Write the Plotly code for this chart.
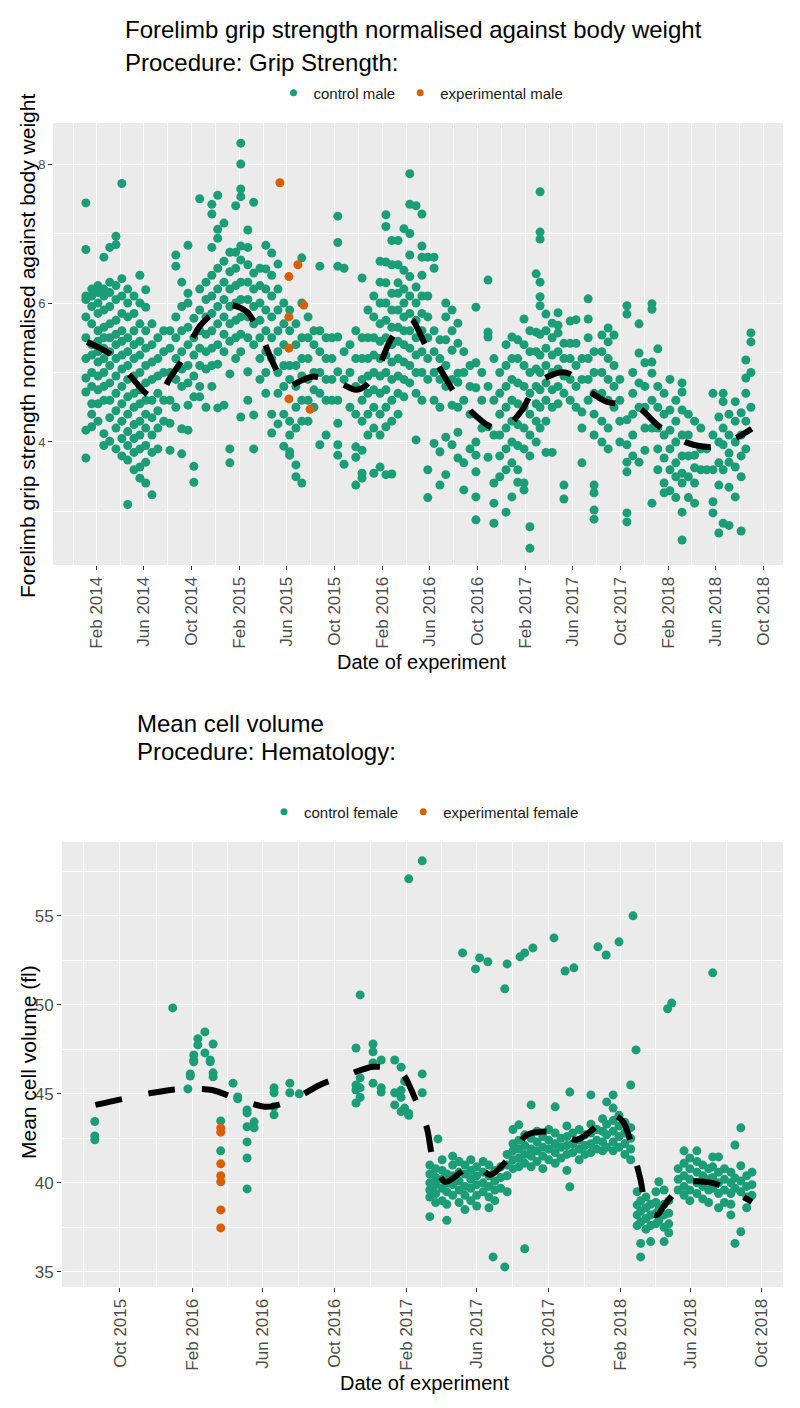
import plotly.graph_objects as go
from datetime import datetime

# ---------------- Top panel: forelimb grip strength ----------------
grip_ctrl_dates = [
    "2014-01-04", "2014-01-19", "2014-02-04", "2014-02-19", "2014-03-06", "2014-03-22", "2014-04-06", "2014-04-21",
    "2014-05-07", "2014-05-22", "2014-06-06", "2014-06-22", "2014-07-07", "2014-07-22", "2014-08-07", "2014-08-22",
    "2014-09-06", "2014-09-22", "2014-10-07", "2014-10-22", "2014-11-07", "2014-11-22", "2014-12-07", "2014-12-23",
    "2015-01-07", "2015-01-22", "2015-02-04", "2015-02-22", "2015-03-09", "2015-03-25", "2015-04-09", "2015-04-24",
    "2015-05-10", "2015-05-25", "2015-06-09", "2015-06-25", "2015-07-10", "2015-07-26", "2015-08-10", "2015-08-25",
    "2015-09-10", "2015-09-25", "2015-10-10", "2015-10-26", "2015-11-10", "2015-11-25", "2015-12-11", "2015-12-26",
    "2016-01-10", "2016-01-26", "2016-02-10", "2016-02-25", "2016-03-12", "2016-03-27", "2016-04-11", "2016-04-27",
    "2016-05-12", "2016-05-27", "2016-06-12", "2016-06-27", "2016-07-12", "2016-07-28", "2016-08-12", "2016-08-27",
    "2016-09-12", "2016-09-27", "2016-10-12", "2016-10-28", "2016-11-12", "2016-11-27", "2016-12-13", "2016-12-28",
    "2017-01-12", "2017-01-28", "2017-02-12", "2017-02-28", "2017-03-10", "2017-03-25", "2017-04-10", "2017-04-25",
    "2017-05-10", "2017-05-26", "2017-06-10", "2017-06-25", "2017-07-11", "2017-07-26", "2017-08-15", "2017-08-31",
    "2017-09-15", "2017-09-30", "2017-10-18", "2017-11-02", "2017-11-18", "2017-12-03", "2017-12-21", "2018-01-05",
    "2018-01-21", "2018-02-05", "2018-02-20", "2018-03-08", "2018-03-24", "2018-04-09", "2018-04-25", "2018-05-10",
    "2018-05-26", "2018-06-10", "2018-06-21", "2018-07-06", "2018-07-22", "2018-08-06", "2018-08-18", "2018-08-31",
]
grip_ctrl_values = [
    [7.44, 6.77, 6.1, 6.05, 5.8, 5.5, 5.2, 4.92, 4.72, 4.17, 3.77],
    [6.2, 6.1, 5.95, 5.7, 5.4, 5.25, 5.0, 4.8, 4.55, 4.4, 4.22],
    [6.25, 6.15, 6.0, 5.85, 5.6, 5.45, 5.3, 5.15, 4.95, 4.75, 4.55, 4.3],
    [6.66, 6.2, 6.1, 5.9, 5.65, 5.5, 5.35, 5.2, 5.0, 4.8, 4.6, 4.12, 3.95],
    [6.8, 6.3, 6.15, 5.95, 5.7, 5.5, 5.3, 5.1, 4.85, 4.6, 4.35, 4.01],
    [6.96, 6.84, 6.25, 6.05, 5.75, 5.55, 5.4, 5.2, 4.95, 4.7, 4.45, 4.2, 3.9],
    [7.72, 6.35, 6.1, 5.85, 5.6, 5.45, 5.25, 5.05, 4.8, 4.55, 4.3, 4.05, 3.8],
    [6.2, 6.0, 5.8, 5.5, 5.3, 5.1, 4.9, 4.65, 4.4, 4.15, 3.95, 3.74, 3.1],
    [6.1, 5.85, 5.6, 5.4, 5.2, 4.95, 4.7, 4.5, 4.25, 4.05, 3.85, 3.6],
    [6.4, 6.0, 5.7, 5.45, 5.25, 5.0, 4.75, 4.55, 4.3, 4.1, 3.9, 3.64, 3.48],
    [6.19, 5.94, 5.6, 5.35, 5.1, 4.85, 4.6, 4.4, 4.2, 3.95, 3.71, 3.41],
    [5.7, 5.4, 5.15, 4.9, 4.6, 4.35, 4.1, 3.85, 3.24],
    [5.5, 5.2, 4.95, 4.7, 4.45, 4.2, 3.9],
    [5.6, 5.3, 5.0, 4.6, 4.3],
    [5.6, 5.35, 5.0, 4.6, 4.27, 3.88],
    [6.69, 6.53, 5.8, 5.5, 5.2, 4.9, 4.5],
    [6.3, 5.95, 5.6, 5.3, 5.05, 4.8, 4.19, 3.83],
    [6.83, 6.14, 6.0, 5.65, 5.4, 5.1, 4.85, 4.53, 4.17],
    [5.78, 5.5, 5.25, 4.95, 4.65, 3.65, 3.42],
    [7.5, 6.2, 5.9, 5.6, 5.35, 5.1, 4.8, 4.65],
    [6.3, 6.05, 5.8, 5.55, 5.3, 5.05, 4.5],
    [7.42, 7.28, 6.8, 6.4, 6.1, 5.85, 5.6, 5.35, 5.1, 4.8],
    [7.55, 7.06, 6.93, 6.5, 6.2, 5.95, 5.7, 5.4, 5.12, 4.49],
    [7.15, 6.6, 6.3, 6.05, 5.8, 5.55, 5.3, 4.53],
    [6.73, 6.45, 6.2, 5.95, 5.7, 5.45, 4.98, 3.9, 3.7],
    [7.4, 6.73, 6.5, 6.25, 6.0, 5.75, 5.5, 5.2],
    [8.3, 8.0, 7.64, 7.53, 6.82, 6.62, 6.3, 6.05, 5.8, 5.55, 5.3, 4.36],
    [7.05, 6.8, 6.55, 6.3, 6.05, 5.8, 5.5, 5.01, 4.6],
    [7.45, 6.43, 6.2, 5.95, 5.7, 5.4, 4.39, 3.9],
    [6.5, 6.25, 6.0, 5.75, 5.5, 5.2, 4.9],
    [6.83, 6.49, 6.2, 5.9, 5.6, 5.3, 5.0, 4.7],
    [6.72, 6.4, 6.1, 5.8, 5.5, 5.2, 4.4, 4.13],
    [6.56, 6.2, 5.9, 5.6, 5.3, 5.0, 4.7, 4.26],
    [6.0, 5.7, 5.4, 5.1, 4.8, 4.4, 3.94],
    [5.9, 5.6, 5.1, 4.9, 4.3, 4.1, 3.86, 3.81],
    [5.7, 5.4, 5.1, 4.8, 4.5, 4.2, 3.67, 3.5],
    [6.65, 6.0, 5.5, 5.2, 4.95, 4.6, 4.3, 3.41],
    [5.8, 5.5, 5.2, 4.9, 4.6, 4.3],
    [5.6, 5.4, 5.0, 4.75, 4.5],
    [6.53, 5.6, 5.3, 5.0, 4.7, 3.96],
    [5.5, 5.2, 4.9, 4.6, 4.1],
    [5.5, 5.2, 4.9, 4.6],
    [7.25, 6.87, 6.53, 5.51, 5.01, 4.6, 4.27, 3.96, 3.81],
    [6.5, 5.3, 4.9, 3.68],
    [5.4, 5.0, 4.5],
    [5.6, 5.2, 4.8, 4.4, 3.93, 3.78, 3.38],
    [6.36, 5.5, 5.2, 4.9, 4.6, 4.3, 3.88, 3.55, 3.48],
    [5.9, 5.5, 5.2, 4.95, 4.7, 4.4, 4.1],
    [6.1, 5.8, 5.5, 5.25, 5.0, 4.75, 4.5, 4.2, 3.55],
    [6.6, 6.3, 6.0, 5.7, 5.45, 5.2, 4.95, 4.7, 4.4, 4.1, 3.64],
    [7.27, 7.1, 6.59, 6.29, 6.0, 5.75, 5.5, 5.25, 5.0, 4.75, 4.5, 4.22, 3.53],
    [6.9, 6.55, 6.14, 5.9, 5.65, 5.4, 5.15, 4.9, 4.6, 4.3, 3.54],
    [6.9, 6.55, 6.29, 6.14, 5.9, 5.65, 5.45, 5.2, 4.95, 4.7, 4.4],
    [7.07, 6.47, 6.2, 6.0, 5.8, 5.6, 5.4, 5.15, 4.9, 4.65],
    [7.86, 7.42, 7.0, 6.69, 6.38, 6.1, 5.85, 5.6, 5.35, 5.1, 4.85],
    [7.4, 6.23, 6.0, 5.75, 5.5, 5.25, 5.0, 4.7, 4.03],
    [7.28, 6.82, 6.66, 6.4, 6.1, 5.85, 5.6, 5.3, 5.0, 4.6],
    [6.66, 6.1, 5.8, 5.5, 5.2, 4.9, 3.6, 3.2],
    [6.66, 6.5, 5.6, 5.3, 5.0, 4.6, 3.98],
    [5.47, 5.2, 4.9, 4.5, 3.86, 3.38],
    [6.0, 5.8, 5.47, 5.1, 4.8, 4.07, 3.53],
    [5.9, 5.6, 5.32, 4.9, 4.53, 3.96],
    [5.71, 5.42, 4.99, 4.86, 4.5, 4.14, 3.77],
    [5.3, 5.0, 4.6, 3.7, 3.31],
    [5.1, 4.8, 4.4, 3.9],
    [5.94, 5.14, 4.78, 4.0, 3.81, 3.57, 3.21, 2.88],
    [5.0, 4.6, 4.2],
    [6.33, 5.58, 5.51, 4.8, 4.22, 3.78],
    [5.2, 4.6, 4.1, 3.41, 3.12, 2.83],
    [5.0, 4.7, 4.4, 4.1, 3.8, 3.5],
    [5.4, 5.1, 4.8, 4.5, 4.2, 3.9, 3.6, 2.99],
    [5.51, 5.2, 4.9, 4.6, 4.3, 4.0, 3.7, 3.21],
    [5.47, 5.2, 4.85, 4.55, 4.25, 3.95, 3.6, 3.42],
    [5.77, 5.4, 5.1, 4.8, 4.5, 4.2, 3.9, 3.41, 3.31],
    [5.6, 5.3, 5.0, 4.7, 4.4, 4.1, 3.8, 2.78, 2.47],
    [6.42, 5.58, 5.3, 5.05, 4.8, 4.55, 4.3, 4.0],
    [7.6, 7.02, 6.92, 6.3, 6.09, 5.96, 5.55, 5.25, 5.0, 4.75, 4.5, 4.2],
    [5.84, 5.6, 5.35, 5.1, 4.85, 4.6, 4.3, 3.85],
    [5.71, 5.5, 5.25, 5.0, 4.75, 4.5, 3.85],
    [5.86, 5.68, 5.57, 5.3, 5.05, 4.8, 4.55],
    [5.42, 5.2, 4.95, 4.7, 3.38, 3.18],
    [5.74, 5.42, 5.2, 4.9, 4.6],
    [5.76, 5.42, 5.1, 4.8, 4.5],
    [5.2, 4.9, 4.43, 4.2, 3.7],
    [6.06, 5.77, 5.5, 5.2, 4.9, 4.6],
    [5.3, 5.0, 4.7, 4.4, 4.1, 3.38, 3.27, 3.02, 2.89],
    [5.54, 5.3, 5.0, 4.7, 4.3, 4.0],
    [5.64, 5.44, 5.2, 4.9, 4.6, 4.2, 3.9],
    [5.54, 5.1, 4.8, 4.5],
    [4.9, 4.6, 4.3, 4.0],
    [5.96, 5.84, 4.32, 3.96, 3.71, 3.57, 2.98, 2.85],
    [5.0, 4.7, 4.4, 4.1, 3.8],
    [5.7, 5.28, 4.85, 4.5, 3.71],
    [5.14, 4.8, 4.5, 4.2, 3.88],
    [5.99, 5.91, 5.15, 4.99, 4.6, 4.2, 3.12],
    [5.34, 4.8, 4.5, 4.2, 3.9, 3.6],
    [4.7, 4.4, 4.1, 3.77, 3.41, 3.27],
    [4.9, 4.46, 4.17, 3.9, 3.6, 3.3],
    [4.6, 4.3, 4.0, 3.7, 3.5, 3.2],
    [4.85, 4.72, 4.46, 4.1, 3.8, 3.55, 3.41, 2.99, 2.59],
    [4.4, 4.1, 3.8, 3.5, 3.2],
    [4.3, 3.81, 3.63, 3.41, 3.12],
    [4.2, 3.9, 3.6],
    [3.9, 3.6],
    [4.7, 4.1, 3.6, 3.14, 2.98],
    [4.36, 4.0, 3.7, 3.38, 2.69],
    [4.7, 4.58, 4.2, 3.96, 3.6, 2.83],
    [4.4, 4.1, 3.84, 3.71, 3.35, 2.8],
    [4.58, 4.3, 4.0, 3.64, 3.21],
    [4.42, 4.1, 3.8, 3.5, 2.72],
    [5.18, 4.92, 4.7, 4.3, 3.9],
    [5.57, 5.44, 5.0, 4.5],
]
grip_exp_dates = ["2015-05-15", "2015-06-07", "2015-06-07", "2015-06-07", "2015-06-07",
                  "2015-06-30", "2015-07-15", "2015-07-31"]
grip_exp_values = [7.73, 6.38, 5.8, 5.35, 4.62, 6.55, 5.97, 4.47]
grip_trend_dates = [
    "2014-01-07", "2014-03-06", "2014-04-26", "2014-06-11", "2014-07-07", "2014-08-07", "2014-09-14",
    "2014-10-20", "2014-12-13", "2015-01-12", "2015-02-20", "2015-03-30", "2015-04-27", "2015-06-02",
    "2015-06-30", "2015-08-05", "2015-10-10", "2015-11-25", "2015-12-18", "2016-01-20", "2016-02-20",
    "2016-03-20", "2016-04-14", "2016-05-25", "2016-07-02", "2016-08-10", "2016-09-30", "2016-11-02",
    "2016-12-05", "2017-01-23", "2017-03-04", "2017-04-29", "2017-05-25", "2017-07-02", "2017-08-27",
    "2017-11-15", "2018-01-05", "2018-03-20", "2018-05-23", "2018-07-28", "2018-09-02",
]
grip_trend_values = [
    5.44, 5.27, 4.96, 4.68, 4.64, 4.92, 5.24,
    5.65, 5.93, 5.97, 5.87, 5.51, 5.14, 4.79,
    4.86, 4.94, 4.86, 4.75, 4.8, 5.05, 5.45,
    5.68, 5.77, 5.35, 5.01, 4.65, 4.36, 4.22,
    4.17, 4.46, 4.85, 5.0, 4.98, 4.78, 4.58,
    4.5, 4.24, 3.99, 3.93, 4.07, 4.19,
]
grip_tick_labels = ["Feb 2014", "Jun 2014", "Oct 2014", "Feb 2015", "Jun 2015", "Oct 2015", "Feb 2016",
                    "Jun 2016", "Oct 2016", "Feb 2017", "Jun 2017", "Oct 2017", "Feb 2018", "Jun 2018",
                    "Oct 2018"]
grip_y_ticks = [4, 6, 8]

# ---------------- Bottom panel: mean cell volume ----------------
mcv_ctrl_dates = [
    "2015-08-19", "2015-12-30", "2016-01-25", "2016-01-29", "2016-02-04", "2016-02-11", "2016-02-23", "2016-03-03",
    "2016-03-08", "2016-03-21", "2016-04-11", "2016-04-19", "2016-05-05", "2016-05-17", "2016-06-20", "2016-07-17",
    "2016-08-02", "2016-11-07", "2016-11-14", "2016-12-06", "2016-12-20", "2017-01-12", "2017-01-23", "2017-01-29",
    "2017-02-05", "2017-02-28", "2017-03-13", "2017-03-23", "2017-03-27", "2017-04-03", "2017-04-11", "2017-04-21",
    "2017-05-02", "2017-05-08", "2017-05-12", "2017-05-22", "2017-05-30", "2017-06-01", "2017-06-06", "2017-06-12",
    "2017-06-20", "2017-06-22", "2017-06-29", "2017-07-02", "2017-07-12", "2017-07-19", "2017-07-23", "2017-08-02",
    "2017-08-12", "2017-08-14", "2017-08-22", "2017-09-02", "2017-09-05", "2017-09-12", "2017-09-22", "2017-10-02",
    "2017-10-11", "2017-10-13", "2017-10-23", "2017-10-30", "2017-11-02", "2017-11-07", "2017-11-12", "2017-11-14",
    "2017-11-23", "2017-12-03", "2017-12-13", "2017-12-23", "2017-12-25", "2018-01-02", "2018-01-08", "2018-01-09",
    "2018-01-20", "2018-01-30", "2018-02-09", "2018-02-19", "2018-02-23", "2018-02-28", "2018-03-02", "2018-03-08",
    "2018-03-17", "2018-03-25", "2018-04-03", "2018-04-08", "2018-04-17", "2018-04-23", "2018-04-25", "2018-04-30",
    "2018-05-11", "2018-05-21", "2018-05-31", "2018-06-12", "2018-06-22", "2018-07-02", "2018-07-09", "2018-07-19",
    "2018-07-29", "2018-08-09", "2018-08-16", "2018-08-26", "2018-09-05", "2018-09-14",
]
mcv_ctrl_values = [
    [43.45, 42.64, 42.42], [49.83], [45.28], [46.12, 46.0], [47.19, 46.9, 46.8], [48.1, 47.75], [48.48, 47.3],
    [46.9, 46.8],
    [47.8, 46.18, 45.96], [43.48, 41.8], [45.6], [44.83, 44.72], [44.1, 43.93, 43.15, 42.3, 41.4, 39.66],
    [43.43, 43.09], [45.34, 45.06, 44.27, 43.82], [45.6, 45.06],
    [45.0], [47.58, 45.5, 45.22, 44.49], [50.56, 45.9, 45.34, 44.8], [47.8, 47.36, 46.74, 45.6],
    [46.9, 45.34, 45.1], [46.9, 45.06, 44.38], [46.5, 45.2, 44.8, 44.0], [45.7, 44.2],
    [57.08, 43.9, 43.8], [58.09, 46.12, 45.06], [41.0, 40.5, 40.0, 39.6, 39.2, 38.1], [40.8, 40.3, 39.9, 39.4, 38.9],
    [42.47], [41.3, 40.7, 40.2, 39.7, 39.0], [40.5, 40.0, 39.5, 38.8, 37.9], [41.5, 41.0, 40.4, 39.9, 39.3],
    [41.2, 40.6, 40.1, 39.6, 38.9], [52.92], [41.0, 40.5, 39.8, 39.3, 38.5], [41.3, 40.7, 40.2, 39.7, 39.0],
    [52.02], [40.9, 40.4, 39.9, 39.3, 38.7], [52.64], [41.2, 40.6, 40.0, 39.5],
    [52.42], [41.0, 40.4, 39.8, 39.2, 38.6], [35.84], [40.7, 40.1, 39.6, 39.0], [40.9, 40.3, 39.7],
    [50.9, 35.28], [52.3, 41.6, 41.0, 40.4, 39.5], [43.0, 42.2, 41.8, 41.3, 40.8],
    [43.26, 42.4, 41.9, 41.4, 40.9], [52.7], [52.92, 42.7, 42.1, 41.6, 41.1, 36.3], [44.38, 42.5, 41.9, 41.5, 40.9],
    [53.2], [42.9, 42.3, 41.8, 41.2], [42.6, 42.0, 41.5, 40.8], [43.0, 42.4, 41.9, 41.3],
    [53.76], [44.27, 42.8, 42.2, 41.7, 41.1], [42.5, 42.0, 41.4], [51.9], [43.2, 42.6, 42.1, 41.6, 40.7],
    [45.1, 39.78], [42.8, 42.2, 41.7], [52.08],
    [43.0, 42.4, 41.9, 41.3], [42.7, 42.1, 41.6], [44.94, 43.3, 42.8, 42.2, 41.7], [43.0, 42.4, 41.9], [53.26],
    [43.6, 42.9, 42.3, 41.8], [52.8], [44.55, 43.3, 42.7, 42.0],
    [44.94, 44.2, 43.5, 42.9, 42.3, 41.8], [53.54, 43.8, 43.2, 42.6, 42.0], [43.4, 42.8, 42.2, 41.6],
    [45.5, 43.1, 42.5, 41.9, 41.3], [55.0], [47.47], [39.5, 38.76, 38.2, 37.6], [39.0, 38.4, 37.8, 36.6, 35.84],
    [39.2, 38.6, 38.0, 37.4], [38.8, 38.2, 37.6, 36.7], [39.5, 38.9, 38.3, 37.7], [40.06, 38.5, 37.9],
    [39.6, 38.8, 38.2, 37.5, 36.7], [49.78], [39.0, 38.3, 37.7, 37.2], [50.1],
    [40.8, 40.2, 39.6], [41.8, 41.1, 40.4, 39.8, 39.3], [41.4, 40.8, 40.2, 39.6, 39.0],
    [41.8, 41.2, 40.6, 40.0, 39.4], [41.0, 40.4, 39.8, 39.1], [40.8, 40.2, 39.6, 38.9],
    [51.8, 41.46, 40.9, 40.3, 39.7], [41.46, 40.6, 40.0, 39.4, 38.6],
    [40.8, 40.2, 39.6, 38.9], [40.6, 40.0, 39.4, 38.8, 38.2], [42.13, 40.28, 39.7, 36.6],
    [43.09, 40.96, 40.1, 39.5, 37.25], [40.4, 39.8, 39.2, 38.6], [40.6, 39.9, 39.3],
]
mcv_exp_dates = ["2016-03-21"] * 7
mcv_exp_values = [43.09, 42.85, 41.07, 40.4, 40.06, 38.48, 37.47]
mcv_trend_dates = [
    "2015-08-20", "2015-10-06", "2015-11-26", "2016-01-15", "2016-03-06", "2016-04-23", "2016-06-08",
    "2016-07-22", "2016-09-06", "2016-10-23", "2016-12-06", "2017-01-04", "2017-01-24", "2017-02-19",
    "2017-03-08", "2017-03-18", "2017-04-08", "2017-05-15", "2017-06-01", "2017-06-24", "2017-07-31",
    "2017-08-26", "2017-10-13", "2017-11-19", "2018-01-01", "2018-01-20", "2018-02-06", "2018-03-07",
    "2018-03-19", "2018-04-05", "2018-04-18", "2018-05-23", "2018-07-08", "2018-08-24", "2018-09-14",
]
mcv_trend_values = [
    44.38, 44.72, 45.06, 45.28, 45.22, 44.66, 44.27,
    44.66, 45.5, 46.07, 46.52, 46.45, 46.2, 44.49,
    43.09, 41.4, 40.06, 40.84, 41.01, 40.45, 41.57,
    42.7, 42.87, 42.42, 43.43, 43.82, 43.43, 40.28,
    38.48, 38.2, 38.76, 40.0, 40.0, 39.33, 38.93,
]
mcv_tick_labels = ["Oct 2015", "Feb 2016", "Jun 2016", "Oct 2016", "Feb 2017", "Jun 2017", "Oct 2017",
                   "Feb 2018", "Jun 2018", "Oct 2018"]
mcv_y_ticks = [35, 40, 45, 50, 55]

# ---------------- styling ----------------
GREEN = "#1b9e77"
ORANGE = "#d95f02"
FONT = "Liberation Sans"
OFF = 8                  # page body margin of the html page
W, H = 800 - 2 * OFF, 1408 - 2 * OFF


def expand(dates, groups):
    xs, ys = [], []
    for d, vals in zip(dates, groups):
        for v in vals:
            xs.append(d)
            ys.append(v)
    return xs, ys


def month_ticks(labels):
    vals = [datetime.strptime(t, "%b %Y") for t in labels]
    step = vals[1] - vals[0]
    minor = [vals[0] - step / 2] + [a + (b - a) / 2 for a, b in zip(vals[:-1], vals[1:])] + [vals[-1] + step / 2]
    return vals, minor


def px(x):
    return (x - OFF) / W


def py(y):
    return 1 - (y - OFF) / H


fig = go.Figure()

gx, gy = expand(grip_ctrl_dates, grip_ctrl_values)
fig.add_trace(go.Scatter(x=gx, y=gy, mode="markers", marker=dict(color=GREEN, size=9),
                         showlegend=False, xaxis="x", yaxis="y", hoverinfo="skip"))
fig.add_trace(go.Scatter(x=grip_exp_dates, y=grip_exp_values, mode="markers", marker=dict(color=ORANGE, size=9),
                         showlegend=False, xaxis="x", yaxis="y", hoverinfo="skip"))
fig.add_trace(go.Scatter(x=grip_trend_dates, y=grip_trend_values, mode="lines",
                         line=dict(color="black", width=6, dash="27px,27px", shape="spline", smoothing=0.8),
                         showlegend=False, xaxis="x", yaxis="y", hoverinfo="skip"))

mx, my = expand(mcv_ctrl_dates, mcv_ctrl_values)
fig.add_trace(go.Scatter(x=mx, y=my, mode="markers", marker=dict(color=GREEN, size=9),
                         showlegend=False, xaxis="x2", yaxis="y2", hoverinfo="skip"))
fig.add_trace(go.Scatter(x=mcv_exp_dates, y=mcv_exp_values, mode="markers", marker=dict(color=ORANGE, size=9),
                         showlegend=False, xaxis="x2", yaxis="y2", hoverinfo="skip"))
fig.add_trace(go.Scatter(x=mcv_trend_dates, y=mcv_trend_values, mode="lines",
                         line=dict(color="black", width=6, dash="27px,27px", shape="spline", smoothing=0.8),
                         showlegend=False, xaxis="x2", yaxis="y2", hoverinfo="skip"))

# legend entries
for name, col, leg, ax in [("control male", GREEN, "legend", ("x", "y")),
                           ("experimental male", ORANGE, "legend", ("x", "y")),
                           ("control female", GREEN, "legend2", ("x2", "y2")),
                           ("experimental female", ORANGE, "legend2", ("x2", "y2"))]:
    fig.add_trace(go.Scatter(x=[None], y=[None], mode="markers", name=name,
                             marker=dict(color=col, size=7), legend=leg,
                             xaxis=ax[0], yaxis=ax[1]))

gvals, gminor = month_ticks(grip_tick_labels)
mvals, mminor = month_ticks(mcv_tick_labels)

xcommon = dict(showgrid=True, gridcolor="white", gridwidth=1.2, zeroline=False, showline=False,
               ticks="outside", ticklen=4, tickwidth=1, tickcolor="#333333", tickangle=-90,
               tickfont=dict(family=FONT, size=17, color="#4d4d4d"), tickmode="array")
ycommon = dict(showgrid=True, gridcolor="white", gridwidth=1.2, zeroline=False, showline=False,
               ticks="outside", ticklen=4, tickwidth=1, tickcolor="#333333", tickmode="array")

fig.update_layout(
    width=W, height=H,
    paper_bgcolor="white", plot_bgcolor="#ebebeb",
    margin=dict(l=0, r=0, t=0, b=0),
    font=dict(family=FONT, color="#1a1a1a"),
    xaxis=dict(domain=[px(53), px(783)], anchor="y", type="date",
               range=["2013-10-12", "2018-11-21"],
               tickvals=gvals, ticktext=grip_tick_labels,
               minor=dict(tickmode="array", tickvals=gminor, showgrid=True, gridcolor="white", gridwidth=0.6),
               **xcommon),
    yaxis=dict(domain=[py(565), py(123)], anchor="x", range=[2.23, 8.59],
               tickvals=grip_y_ticks, ticktext=[str(v) for v in grip_y_ticks],
               tickfont=dict(family=FONT, size=13, color="#4d4d4d"),
               minor=dict(tickmode="array", tickvals=[3, 5, 7], showgrid=True, gridcolor="white", gridwidth=0.6),
               **ycommon),
    xaxis2=dict(domain=[px(62), px(783)], anchor="y2", type="date",
                range=["2015-06-24", "2018-11-06"],
                tickvals=mvals, ticktext=mcv_tick_labels,
                minor=dict(tickmode="array", tickvals=mminor, showgrid=True, gridcolor="white", gridwidth=0.6),
                **xcommon),
    yaxis2=dict(domain=[py(1287), py(842)], anchor="x2", range=[34.15, 59.15],
                tickvals=mcv_y_ticks, ticktext=[str(v) for v in mcv_y_ticks],
                tickfont=dict(family=FONT, size=17, color="#4d4d4d"),
                minor=dict(tickmode="array", tickvals=[37.5, 42.5, 47.5, 52.5, 57.5], showgrid=True,
                           gridcolor="white", gridwidth=0.6),
                **ycommon),
    legend=dict(orientation="h", x=px(421), xanchor="center", y=py(93), yanchor="middle",
                font=dict(family=FONT, size=15, color="#1a1a1a"), bgcolor="rgba(0,0,0,0)",
                itemclick=False, itemdoubleclick=False),
    legend2=dict(orientation="h", x=px(424), xanchor="center", y=py(812), yanchor="middle",
                 font=dict(family=FONT, size=15, color="#1a1a1a"), bgcolor="rgba(0,0,0,0)",
                 itemclick=False, itemdoubleclick=False),
    showlegend=True,
)

ann = [
    dict(text="Forelimb grip strength normalised against body weight", x=px(123), y=py(30), size=24,
         xanchor="left", angle=0),
    dict(text="Procedure: Grip Strength:", x=px(123), y=py(62), size=24, xanchor="left", angle=0),
    dict(text="Mean cell volume", x=px(135), y=py(723), size=24, xanchor="left", angle=0),
    dict(text="Procedure: Hematology:", x=px(135), y=py(752), size=24, xanchor="left", angle=0),
    dict(text="Forelimb grip strength normalised against body weight", x=px(27), y=py(346), size=21,
         xanchor="center", angle=-90),
    dict(text="Mean cell volume (fl)", x=px(28), y=py(1062), size=21, xanchor="center", angle=-90),
    dict(text="Date of experiment", x=px(421), y=py(662), size=20, xanchor="center", angle=0),
    dict(text="Date of experiment", x=px(424), y=py(1383), size=20, xanchor="center", angle=0),
]
for a in ann:
    fig.add_annotation(text=a["text"], x=a["x"], y=a["y"], xref="paper", yref="paper",
                       xanchor=a["xanchor"], yanchor="middle", textangle=a["angle"], showarrow=False,
                       font=dict(family=FONT, size=a["size"], color="#000000"))

fig.write_html("out.html")
